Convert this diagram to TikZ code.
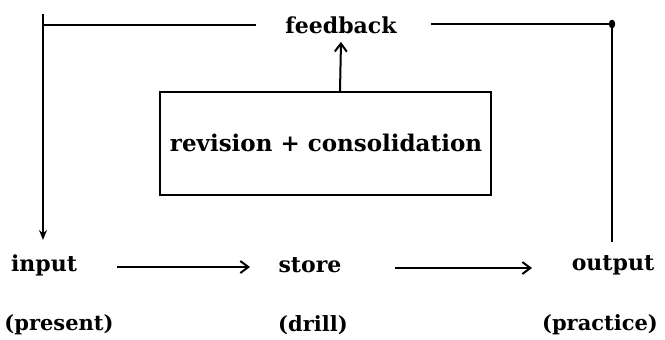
\documentclass[tikz,border=0pt]{standalone}
\usepackage{fontspec}
\setmainfont{DejaVu Serif}
\usetikzlibrary{arrows.meta}
\begin{document}
\begin{tikzpicture}[x=0.5pt,y=-0.5pt,
  every node/.style={font=\bfseries\fontsize{11}{13}\selectfont, inner sep=0pt},
  small/.style={font=\bfseries\fontsize{10.5}{13}\selectfont},
  big/.style={font=\bfseries\fontsize{11.5}{13}\selectfont},
  line/.style={line width=1pt},
  barb/.style={line, -{Straight Barb[length=4pt,width=6pt]}},
  tip/.style={line, -{Stealth[length=5pt,width=4pt]}}]
  \useasboundingbox (0,0) rectangle (665,339);
  % labels
  \node (fb)   at (341,25)  {feedback};
  \node (in)   at (44,265)  {input};
  \node (st)   at (310,265) {store};
  \node (out)  at (613,265) {output};
  \node[small] (pre)  at (59,325)  {(present)};
  \node[small] (dr)   at (313,325) {(drill)};
  \node[small] (pr)   at (600,325) {(practice)};
  % central box
  \node[draw, line width=1pt, minimum width=165.5pt, minimum height=51.5pt]
       (box) at (325.5,143.5) {};
  \node[big] at (326,143) {revision + consolidation};
  % feedback loop
  \coordinate (fbl) at (256,25);
  \coordinate (fbr) at (431,24);
  \coordinate (tl)  at (43,25);
  \coordinate (tr)  at (612,24);
  \coordinate (inN) at (43,240);
  \coordinate (outN) at (612,242);
  \draw[line] (fbl) -- (tl);
  \draw[tip] (43,14) -- (inN);
  \draw[line] (fbr) -- (tr) -- (outN);
  \fill (tr) ellipse (1.6pt and 2.2pt);
  \draw[barb] (box.north -| fb.south) ++(-1,0) -- ([yshift=-4pt]fb.south);
  % main flow
  \draw[barb] (117,267) -- (250,267);
  \draw[barb] (395,268) -- (532,268);
\end{tikzpicture}
\end{document}
